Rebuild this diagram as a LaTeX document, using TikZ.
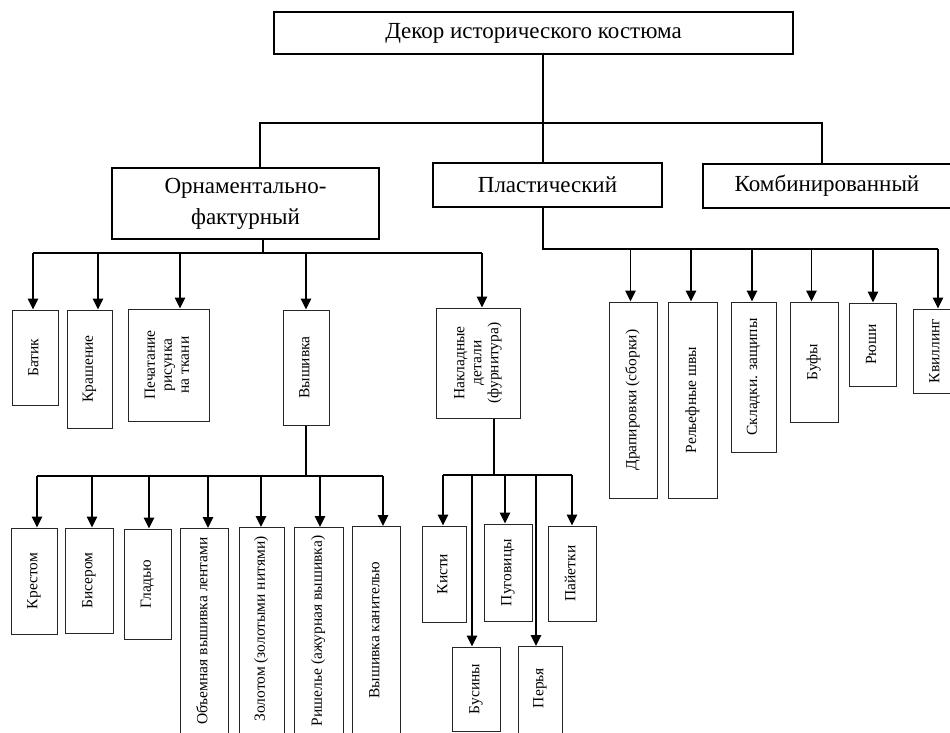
\documentclass[tikz,border=0pt]{standalone}
\usepackage{fontspec}
\setmainfont{Liberation Serif}
\usetikzlibrary{arrows.meta}

\newcommand{\vtext}[1]{\rotatebox{90}{\begin{tabular}{@{}c@{}}#1\end{tabular}}}

\begin{document}
\begin{tikzpicture}[x=1pt, y=-1pt,
    head/.style={draw, line width=1.6pt, inner sep=0pt, align=center, font=\fontsize{23}{31}\selectfont},
    vbox/.style={draw=black!85, line width=1pt, inner sep=0pt, font=\fontsize{15.5}{17}\selectfont},
    conn/.style={line width=1.6pt},
    arr/.style={line width=1.6pt, -{Triangle[length=11pt, width=10.5pt]}}]
\clip (0,0) rectangle (950,733);

% top level
\node[head, minimum width=519, minimum height=42] (decor) at (533.5,33) {Декор исторического костюма};
\node[head, minimum width=267, minimum height=71] (orn) at (245.5,203.5) {Орнаментально-\\фактурный};
\node[head, minimum width=229, minimum height=44] (plast) at (547.5,185) {Пластический};
\node[head, minimum width=248, minimum height=44] (komb) at (827,186) {Комбинированный};

\coordinate (tJ) at (543,123);
\coordinate (tL) at (260,123);
\coordinate (tR) at (822,123);
\draw[conn] (decor.south -| tJ) -- (tJ);
\draw[conn] (tL |- orn.north) -- (tL) -- (tR) -- (tR |- komb.north);
\draw[conn] (tJ) -- (tJ |- plast.north);

% ornamental branch
\node[vbox, minimum width=46, minimum height=95] (batik) at (35,357.5) {\vtext{Батик}};
\node[vbox, minimum width=45, minimum height=118] (kras) at (89.5,369) {\vtext{Крашение}};
\node[vbox, minimum width=81, minimum height=112] (pech) at (168.5,365) {\vtext{Печатание\\рисунка\\на ткани}};
\node[vbox, minimum width=46, minimum height=115] (vysh) at (306,367.5) {\vtext{Вышивка}};
\node[vbox, minimum width=84, minimum height=110] (nakl) at (478,363) {\vtext{Накладные\\детали\\(фурнитура)}};

\coordinate (oJ) at (263,253);
\coordinate (o1) at (33,253);
\coordinate (o2) at (98,253);
\coordinate (o3) at (180,253);
\coordinate (o4) at (306,253);
\coordinate (o5) at (482,253);
\draw[conn] (orn.south -| oJ) -- (oJ);
\draw[conn] (o1) -- (o5);
\draw[arr] (o1) -- (o1 |- batik.north);
\draw[arr] (o2) -- (o2 |- kras.north);
\draw[arr] (o3) -- (o3 |- pech.north);
\draw[arr] (o4) -- (o4 |- vysh.north);
\draw[arr] (o5) -- (o5 |- nakl.north);

% embroidery
\node[vbox, minimum width=46, minimum height=106] (krest) at (34,581) {\vtext{Крестом}};
\node[vbox, minimum width=48, minimum height=105] (biser) at (89,580.5) {\vtext{Бисером}};
\node[vbox, minimum width=47, minimum height=110] (glad) at (147.5,584) {\vtext{Гладью}};
\node[vbox, minimum width=48, minimum height=232, anchor=north] (obem) at (204,528) {};
\node[vbox, minimum width=45, minimum height=233, anchor=north] (zolot) at (261.5,527) {};
\node[vbox, minimum width=49, minimum height=233, anchor=north] (rish) at (318.5,527) {};
\node[vbox, minimum width=48, minimum height=234, anchor=north] (kanit) at (376,526) {};
\node[font=\fontsize{15.5}{17}\selectfont, inner sep=0pt] (obemT) at (204,631) {\vtext{Объемная вышивка лентами}};
\node[font=\fontsize{15.5}{17}\selectfont, inner sep=0pt] (zolotT) at (261.5,629) {\vtext{Золотом (золотыми нитями)}};
\node[font=\fontsize{15.5}{17}\selectfont, inner sep=0pt] (rishT) at (318.5,631) {\vtext{Ришелье (ажурная вышивка)}};
\node[font=\fontsize{15.5}{17}\selectfont, inner sep=0pt] (kanitT) at (376,630) {\vtext{Вышивка канителью}};

\coordinate (v1) at (37,476);
\coordinate (v2) at (92,476);
\coordinate (v3) at (149,476);
\coordinate (v4) at (208,476);
\coordinate (v5) at (261,476);
\coordinate (v6) at (320,476);
\coordinate (v7) at (383,476);
\draw[conn] (vysh.south) -- (vysh.south |- v1);
\draw[conn] (v1) -- (v7);
\draw[arr] (v1) -- (v1 |- krest.north);
\draw[arr] (v2) -- (v2 |- biser.north);
\draw[arr] (v3) -- (v3 |- glad.north);
\draw[arr] (v4) -- (v4 |- obem.north);
\draw[arr] (v5) -- (v5 |- zolot.north);
\draw[arr] (v6) -- (v6 |- rish.north);
\draw[arr] (v7) -- (v7 |- kanit.north);

% applied details
\node[vbox, minimum width=44, minimum height=96] (kisti) at (444,574) {\vtext{Кисти}};
\node[vbox, minimum width=48, minimum height=97] (pugov) at (508,572.5) {\vtext{Пуговицы}};
\node[vbox, minimum width=48, minimum height=95] (paiet) at (572,573.5) {\vtext{Пайетки}};
\node[vbox, minimum width=48, minimum height=84] (busin) at (476,689) {\vtext{Бусины}};
\node[vbox, minimum width=44, minimum height=114, anchor=north] (perya) at (540,646) {};
\node[font=\fontsize{15.5}{17}\selectfont, inner sep=0pt] (peryaT) at (540,688) {\vtext{Перья}};

\coordinate (nJ) at (494,475);
\coordinate (n1) at (443,475);
\coordinate (n2) at (472,475);
\coordinate (n3) at (505,475);
\coordinate (n4) at (536,475);
\coordinate (n5) at (572,475);
\draw[conn] (nakl.south -| nJ) -- (nJ);
\draw[conn] (n1) -- (n5);
\draw[arr] (n1) -- (n1 |- kisti.north);
\draw[arr] (n2) -- (n2 |- busin.north);
\draw[arr] (n3) -- (n3 |- pugov.north);
\draw[arr] (n4) -- (n4 |- perya.north);
\draw[arr] (n5) -- (n5 |- paiet.north);

% plastic branch
\node[vbox, minimum width=48, minimum height=196] (drap) at (633,400) {\vtext{Драпировки (сборки)}};
\node[vbox, minimum width=49.5, minimum height=196] (relef) at (692.75,400) {\vtext{Рельефные швы}};
\node[vbox, minimum width=45.5, minimum height=150] (sklad) at (753.75,377) {\vtext{Складки. защипы}};
\node[vbox, minimum width=48, minimum height=120] (bufy) at (814,362) {\vtext{Буфы}};
\node[vbox, minimum width=46.5, minimum height=83] (ryushi) at (872.75,344.5) {\vtext{Рюши}};
\node[vbox, minimum width=46, minimum height=84] (kvil) at (936,351) {\vtext{Квиллинг}};

\coordinate (p1) at (630.5,249);
\coordinate (p2) at (691,249);
\coordinate (p3) at (752,249);
\coordinate (p4) at (811.5,249);
\coordinate (p5) at (873,249);
\coordinate (p6) at (938,249);
\draw[conn] (plast.south -| tJ) -- (tJ |- p1) -- (p6);
\draw[arr] (p1) -- (p1 |- drap.north);
\draw[arr] (p2) -- (p2 |- relef.north);
\draw[arr] (p3) -- (p3 |- sklad.north);
\draw[arr] (p4) -- (p4 |- bufy.north);
\draw[arr] (p5) -- (p5 |- ryushi.north);
\draw[arr] (p6) -- (p6 |- kvil.north);
\end{tikzpicture}
\end{document}
